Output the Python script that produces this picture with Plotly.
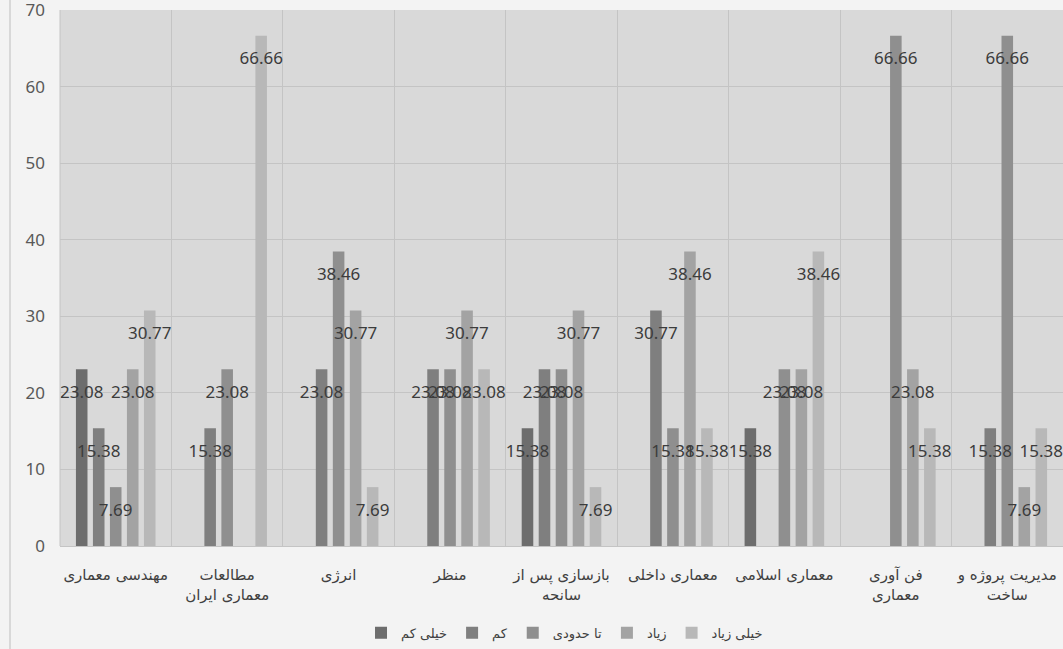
import plotly.graph_objects as go

categories = [
    "مهندسی معماری",
    "مطالعات<br>معماری ایران",
    "انرژی",
    "منظر",
    "بازسازی پس از<br>سانحه",
    "معماری داخلی",
    "معماری اسلامی",
    "فن آوری<br>معماری",
    "مدیریت پروژه و<br>ساخت",
]

series_names = ["خیلی کم", "کم", "تا حدودی", "زیاد", "خیلی زیاد"]

very_low = [23.08, 0, 0, 0, 15.38, 0, 15.38, 0, 0]
low = [15.38, 15.38, 23.08, 23.08, 23.08, 30.77, 0, 0, 15.38]
somewhat = [7.69, 23.08, 38.46, 23.08, 23.08, 15.38, 23.08, 66.66, 66.66]
high = [23.08, 0, 30.77, 30.77, 30.77, 38.46, 23.08, 23.08, 7.69]
very_high = [30.77, 66.66, 7.69, 23.08, 7.69, 15.38, 38.46, 15.38, 15.38]

series_values = [very_low, low, somewhat, high, very_high]
colors = ["#6d6d6d", "#7f7f7f", "#8f8f8f", "#a3a3a3", "#b8b8b8"]

y_ticks = [0, 10, 20, 30, 40, 50, 60, 70]

BARGAP = 0.237

fig = go.Figure()
# bars
for i, (name, vals, col) in enumerate(zip(series_names, series_values, colors)):
    fig.add_trace(go.Bar(
        name=name,
        x=categories,
        y=vals,
        offsetgroup=str(i),
        marker=dict(color=col, line=dict(width=0)),
        hoverinfo="x+y+name",
    ))
# data labels, drawn above all bars
for i, (name, vals) in enumerate(zip(series_names, series_values)):
    fig.add_trace(go.Scatter(
        x=categories,
        y=vals,
        offsetgroup=str(i),
        mode="markers+text",
        marker=dict(size=24, opacity=0),
        text=[f"{v:.2f}" if v else "" for v in vals],
        textposition="bottom center",
        textfont=dict(family="Noto Sans, Open Sans, sans-serif", size=17, color="#3c3c3c"),
        showlegend=False,
        hoverinfo="skip",
        cliponaxis=False,
    ))

fig.update_layout(
    width=1063,
    height=649,
    margin=dict(l=60, r=0, t=10, b=103),
    barmode="group",
    bargap=BARGAP,
    bargroupgap=0.32,
    scattermode="group",
    scattergap=BARGAP,
    plot_bgcolor="#d9d9d9",
    paper_bgcolor="#f3f3f3",
    font=dict(family="Noto Sans, DejaVu Sans, sans-serif", color="#404040"),
    showlegend=True,
    legend=dict(
        orientation="h",
        x=0.503,
        xanchor="center",
        y=-0.162,
        yanchor="middle",
        font=dict(size=13, color="#404040", family="DejaVu Sans, sans-serif"),
        bgcolor="rgba(0,0,0,0)",
        itemwidth=30,
    ),
    xaxis=dict(
        type="category",
        tickson="boundaries",
        showgrid=True,
        gridcolor="#c4c4c4",
        gridwidth=1,
        ticks="",
        tickangle=0,
        automargin=False,
        tickfont=dict(size=15, color="#404040", family="DejaVu Sans, sans-serif"),
        ticklabelstandoff=18,
        showline=False,
        zeroline=False,
    ),
    yaxis=dict(
        range=[0, 70.02],
        tickvals=y_ticks,
        showgrid=True,
        gridcolor="#c4c4c4",
        gridwidth=1,
        zeroline=True,
        zerolinecolor="#c4c4c4",
        zerolinewidth=1,
        automargin=False,
        tickfont=dict(size=17, color="#595959", family="Noto Sans, Open Sans, sans-serif"),
        ticklabelstandoff=14,
        ticklabeloverflow="allow",
        showline=False,
    ),
    shapes=[
        dict(type="line", xref="paper", yref="paper",
             x0=-50 / 1003, x1=-50 / 1003, y0=-0.2, y1=1.02,
             line=dict(color="#bdbdbd", width=1)),
        dict(type="line", xref="paper", yref="paper",
             x0=0, x1=0, y0=0, y1=1,
             line=dict(color="#c4c4c4", width=1)),
    ],
)

fig.write_html("out.html", config={"displayModeBar": False},
               post_script="document.body.style.margin='0px';")
